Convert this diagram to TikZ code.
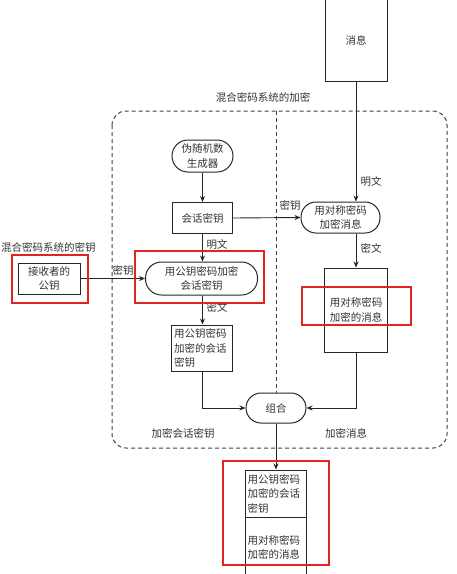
\documentclass[tikz,border=0pt]{standalone}
\usepackage{fontspec}
\newfontfamily\cjk{Noto Sans CJK SC}
\usetikzlibrary{arrows.meta}
\definecolor{ink}{HTML}{333333}
\definecolor{hlred}{HTML}{E02424}
\tikzset{
  txt/.style={font=\cjk\fontsize{10.5}{14.5}\selectfont, text=ink, inner sep=1pt},
  boxnode/.style={txt, draw=black!85, line width=1pt, inner sep=0pt},
  pill/.style={boxnode, rounded corners=15pt},
  arr/.style={-{Stealth[length=6pt,width=5pt]}, line width=0.9pt, draw=black!85},
  dashbox/.style={draw=black!75, line width=1pt, dash pattern=on 4pt off 3pt},
  hl/.style={draw=hlred, line width=2.6pt}
}
\begin{document}
\begin{tikzpicture}[x=1pt,y=-1pt]
\useasboundingbox (0,0) rectangle (456,574);
% dashed region
\draw[dashbox, rounded corners=14pt] (112,111) rectangle (447,448);
\node[txt] (titleenc) at (263,97) {混合密码系统的加密};
\node[txt, anchor=west] (titlekey) at (0,247) {混合密码系统的密钥};
% nodes
\node[boxnode, minimum width=62pt, minimum height=82pt] (msg) at (356,40) {消息};
\node[pill, minimum width=61pt, minimum height=32pt, align=center, rounded corners=16pt] (rng) at (202.5,156) {伪随机数\\生成器};
\node[boxnode, minimum width=60pt, minimum height=31pt] (sk) at (202.5,218) {会话密钥};
\node[pill, minimum width=79pt, minimum height=31pt, align=center] (encmsg) at (340.5,217.5) {用对称密码\\加密消息};
\node[pill, minimum width=112pt, minimum height=33pt, align=center, rounded corners=16pt] (encsk) at (201.5,278.5) {用公钥密码加密\\会话密钥};
\node[boxnode, minimum width=62pt, minimum height=31pt, align=center] (pk) at (49,278.5) {接收者的\\公钥};
\node[boxnode, minimum width=61pt, minimum height=46pt, align=left, text width=56pt] (skbox) at (202,348) {用公钥密码\\加密的会话\\密钥};
\node[boxnode, minimum width=63pt, minimum height=84pt, align=center] (msgbox) at (356,310) {用对称密码\\加密的消息};
\node[pill, minimum width=60pt, minimum height=30pt] (comb) at (276,408) {组合};
\node[boxnode, minimum width=61pt, minimum height=47pt, align=left, text width=56pt] (cell1) at (275.5,493.5) {用公钥密码\\加密的会话\\密钥};
\node[boxnode, minimum width=61pt, minimum height=66pt, align=left, text width=56pt, text depth=20pt] (cell2) at (275.5,550) {用对称密码\\加密的消息};
% divider
\draw[dashbox] (276,111) -- (comb.north);
% connectors
\draw[arr] (msg.south) -- (msg.south |- encmsg.north);
\draw[arr] (rng.south) -- (rng.south |- sk.north);
\draw[arr] (sk.east) -- (encmsg.west);
\draw[arr] (sk.south) -- (sk.south |- encsk.north);
\draw[arr] (pk.east) -- (encsk.west);
\draw[arr] (sk.south |- encsk.south) -- (sk.south |- skbox.north);
\draw[arr] (msg.south |- encmsg.south) -- (msg.south |- msgbox.north);
\draw[arr] (skbox.south) |- (comb.west);
\draw[arr] (msgbox.south) |- (comb.east);
\draw[arr] (comb.south) -- (comb.south |- cell1.north);
% labels
\node[txt] (l1) at (371,182) {明文};
\node[txt] (l2) at (290,205) {密钥};
\node[txt] (l3) at (217,245) {明文};
\node[txt] (l4) at (123,270) {密钥};
\node[txt] (l5) at (217,307) {密文};
\node[txt] (l6) at (371,248) {密文};
\node[txt] (l7) at (183,433) {加密会话密钥};
\node[txt] (l8) at (346,433) {加密消息};
% highlights
\draw[hl] (135,251) rectangle (264,303);
\draw[hl] (12,255) rectangle (88,303);
\draw[hl] (302,287) rectangle (411,325);
\draw[hl] (223,461) rectangle (329,565);
\end{tikzpicture}
\end{document}
